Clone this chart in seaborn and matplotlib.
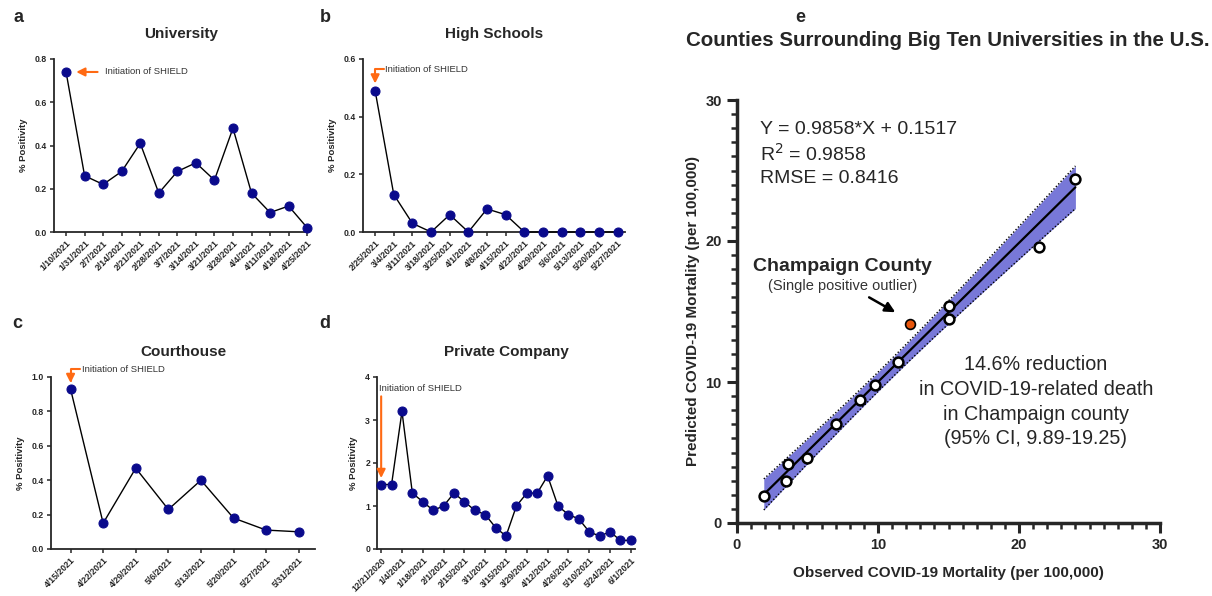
import numpy as np
import matplotlib
matplotlib.use("Agg")
import matplotlib.pyplot as plt
import seaborn as sns

# ---- data ----
uni_dates = ["1/10/2021", "1/31/2021", "2/7/2021", "2/14/2021", "2/21/2021", "2/28/2021", "3/7/2021",
             "3/14/2021", "3/21/2021", "3/28/2021", "4/4/2021", "4/11/2021", "4/18/2021", "4/25/2021"]
uni_pos = [0.74, 0.26, 0.22, 0.28, 0.41, 0.18, 0.28, 0.32, 0.24, 0.48, 0.18, 0.09, 0.12, 0.02]

hs_dates = ["2/25/2021", "3/4/2021", "3/11/2021", "3/18/2021", "3/25/2021", "4/1/2021", "4/8/2021",
            "4/15/2021", "4/22/2021", "4/29/2021", "5/6/2021", "5/13/2021", "5/20/2021", "5/27/2021"]
hs_pos = [0.49, 0.13, 0.03, 0.0, 0.06, 0.0, 0.08, 0.06, 0.0, 0.0, 0.0, 0.0, 0.0, 0.0]

court_dates = ["4/15/2021", "4/22/2021", "4/29/2021", "5/6/2021", "5/13/2021", "5/20/2021", "5/27/2021", "5/31/2021"]
court_pos = [0.93, 0.15, 0.47, 0.23, 0.40, 0.18, 0.11, 0.10]

# private company: weekly points, every other one labelled
priv_labels = ["12/21/2020", "1/4/2021", "1/18/2021", "2/1/2021", "2/15/2021", "3/1/2021", "3/15/2021",
               "3/29/2021", "4/12/2021", "4/26/2021", "5/10/2021", "5/24/2021", "6/1/2021"]
priv_pos = [1.5, 1.5, 3.2, 1.3, 1.1, 0.9, 1.0, 1.3, 1.1, 0.9, 0.8, 0.5, 0.3,
            1.0, 1.3, 1.3, 1.7, 1.0, 0.8, 0.7, 0.4, 0.3, 0.4, 0.2, 0.2]

# counties around Big Ten universities
obs_mort = [1.9, 3.6, 3.5, 5.0, 7.0, 8.7, 9.8, 11.4, 15.0, 15.0, 21.4, 24.0]
pred_mort = [1.9, 4.2, 3.0, 4.6, 7.0, 8.7, 9.8, 11.4, 15.4, 14.5, 19.6, 24.4]
champaign_obs = [12.3]
champaign_pred = [14.1]
fit_slope = 0.9858
fit_icpt = 0.1517

W, H = 1212, 596
NAVY = "#0a0a8c"
ORANGE = "#ff6a13"
FONT = "Liberation Sans"

sns.set_style("ticks")
plt.rcParams["font.family"] = [FONT, "DejaVu Sans"]

fig = plt.figure(figsize=(W / 100, H / 100), dpi=100)


def px_axes(left, top, right, bottom):
    return fig.add_axes([left / W, 1 - bottom / H, (right - left) / W, (bottom - top) / H])


def small_panel(ax, labels, values, ymax, ystep, yfmt, title, tick_every=1, xlim=None):
    x = np.arange(len(values))
    sns.lineplot(x=x, y=values, ax=ax, color="black", lw=1.0, marker="o", markersize=6.5,
                 markerfacecolor=NAVY, markeredgecolor=NAVY, clip_on=False, zorder=3)
    ax.set_ylim(0, ymax)
    ax.set_yticks(np.arange(0, ymax + ystep / 2, ystep))
    ax.set_yticklabels([yfmt.format(v) for v in np.arange(0, ymax + ystep / 2, ystep)],
                       fontsize=6.2, fontweight="bold")
    ax.set_xticks(x[::tick_every])
    ax.set_xticklabels(labels, rotation=45, ha="right", rotation_mode="anchor",
                       fontsize=6.3, fontweight="bold")
    ax.set_xlim(*xlim)
    ax.set_ylabel("% Positivity", fontsize=6.8, fontweight="bold", labelpad=5)
    ax.set_xlabel("")
    for s in ["left", "bottom"]:
        ax.spines[s].set_linewidth(1.3)
    sns.despine(ax=ax)
    ax.tick_params(length=3, width=1.1, pad=2)
    ax.set_title(title, fontsize=11, fontweight="bold", pad=15)


# a - University
ax_a = px_axes(54, 59, 309, 232)
small_panel(ax_a, uni_dates, uni_pos, 0.8, 0.2, "{:.1f}", "University", xlim=(-0.65, 13.1))
ax_a.annotate("", xy=(0.4, 0.74), xytext=(1.85, 0.74),
              arrowprops=dict(arrowstyle="-|>,head_width=0.25,head_length=0.5", color=ORANGE, lw=1.5))
ax_a.text(2.1, 0.74, "Initiation of SHIELD", fontsize=6.8, va="center", color="#333333")

# b - High Schools
ax_b = px_axes(363, 59, 625, 232)
small_panel(ax_b, hs_dates, hs_pos, 0.6, 0.2, "{:.1f}", "High Schools", xlim=(-0.65, 13.4))
ax_b.annotate("", xy=(0, 0.515), xytext=(0.45, 0.565),
              arrowprops=dict(arrowstyle="-|>,head_width=0.25,head_length=0.5", color=ORANGE, lw=1.5,
                              connectionstyle="angle,angleA=0,angleB=90,rad=0", shrinkA=0, shrinkB=0))
ax_b.text(0.55, 0.565, "Initiation of SHIELD", fontsize=6.8, va="center", color="#333333")

# c - Courthouse
ax_c = px_axes(51, 377, 315, 549)
small_panel(ax_c, court_dates, court_pos, 1.0, 0.2, "{:.1f}", "Courthouse", xlim=(-0.6, 7.5))
ax_c.annotate("", xy=(0, 0.965), xytext=(0.28, 1.045),
              arrowprops=dict(arrowstyle="-|>,head_width=0.25,head_length=0.5", color=ORANGE, lw=1.5,
                              connectionstyle="angle,angleA=0,angleB=90,rad=0", shrinkA=0, shrinkB=0))
ax_c.text(0.35, 1.045, "Initiation of SHIELD", fontsize=6.8, va="center", color="#333333")

# d - Private Company
ax_d = px_axes(377, 377, 635, 549)
small_panel(ax_d, priv_labels, priv_pos, 4, 1, "{:.0f}", "Private Company", tick_every=2, xlim=(-0.4, 24.4))
ax_d.annotate("", xy=(0, 1.65), xytext=(0, 3.55),
              arrowprops=dict(arrowstyle="-|>,head_width=0.25,head_length=0.5", color=ORANGE, lw=1.5,
                              shrinkA=0, shrinkB=0))
ax_d.text(-0.2, 3.74, "Initiation of SHIELD", fontsize=6.8, va="center", color="#333333")

# e - counties regression
ax_e = px_axes(737, 100, 1160, 523)
xs = np.array(obs_mort)
ys = np.array(pred_mort)
grid = np.linspace(xs.min(), xs.max(), 100)
fit = fit_slope * grid + fit_icpt
n = len(xs)
resid = ys - (fit_slope * xs + fit_icpt)
s_err = np.sqrt(np.sum(resid ** 2) / (n - 2))
band_t = 3.6
half = band_t * s_err * np.sqrt(1 / n + (grid - xs.mean()) ** 2 / np.sum((xs - xs.mean()) ** 2))
ax_e.fill_between(grid, fit - half, fit + half, color="#7878d8", lw=0, zorder=1)
ax_e.plot(grid, fit - half, color="black", ls=(0, (1, 1.5)), lw=1.0, zorder=2)
ax_e.plot(grid, fit + half, color="black", ls=(0, (1, 1.5)), lw=1.0, zorder=2)
sns.lineplot(x=grid, y=fit, ax=ax_e, color="black", lw=1.6, zorder=3)
sns.scatterplot(x=obs_mort, y=pred_mort, ax=ax_e, s=50, color="white", edgecolor="black",
                linewidth=1.8, zorder=4, clip_on=False)
sns.scatterplot(x=champaign_obs, y=champaign_pred, ax=ax_e, s=50, color="#e8560c", edgecolor="black",
                linewidth=1.2, zorder=4)
ax_e.set_xlim(0, 30)
ax_e.set_ylim(0, 30)
ax_e.set_xticks([0, 10, 20, 30])
ax_e.set_yticks([0, 10, 20, 30])
ax_e.set_xticks(np.arange(0, 31, 1), minor=True)
ax_e.set_yticks(np.arange(0, 31, 1), minor=True)
ax_e.tick_params(which="major", length=7, width=2.2, labelsize=10.5, pad=4)
ax_e.tick_params(which="minor", length=4, width=1.8)
for lbl in ax_e.get_xticklabels() + ax_e.get_yticklabels():
    lbl.set_fontweight("bold")
for s in ["left", "bottom"]:
    ax_e.spines[s].set_linewidth(2.5)
sns.despine(ax=ax_e)
ax_e.set_xlabel("Observed COVID-19 Mortality (per 100,000)", fontsize=11, fontweight="bold", labelpad=10)
ax_e.set_ylabel("Predicted COVID-19 Mortality (per 100,000)", fontsize=11, fontweight="bold", labelpad=4)

ax_e.text(1.6, 27.9, "Y = 0.9858*X + 0.1517", fontsize=14, va="center")
ax_e.text(1.6, 26.2, "R$^2$ = 0.9858", fontsize=14, va="center")
ax_e.text(1.6, 24.4, "RMSE = 0.8416", fontsize=14, va="center")
ax_e.text(7.5, 18.2, "Champaign County", fontsize=14, fontweight="bold", ha="center", va="center")
ax_e.text(7.5, 16.8, "(Single positive outlier)", fontsize=10.5, ha="center", va="center", color="#333333")
ax_e.annotate("", xy=(11.4, 14.85), xytext=(9.2, 16.1),
              arrowprops=dict(arrowstyle="-|>,head_width=0.3,head_length=0.6", color="black", lw=1.8))
ax_e.text(21.2, 8.6, "14.6% reduction\nin COVID-19-related death\nin Champaign county\n(95% CI, 9.89-19.25)",
          fontsize=14.2, ha="center", va="center", linespacing=1.38)

# titles and panel letters
fig.text(948 / W, 1 - 40 / H, "Counties Surrounding Big Ten Universities in the U.S.",
         fontsize=14.8, fontweight="bold", ha="center", va="center")
for letter, lx, ly in [("a", 18, 18), ("b", 325, 18), ("c", 17, 323), ("d", 325, 323), ("e", 800, 18)]:
    fig.text(lx / W, 1 - ly / H, letter, fontsize=13, fontweight="bold", ha="center", va="center")

fig.savefig("out.png", dpi=100)
